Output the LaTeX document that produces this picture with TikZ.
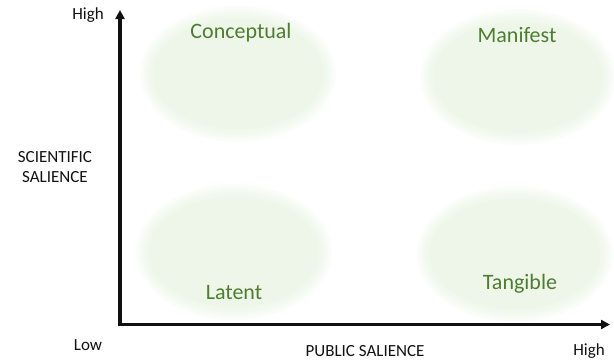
\documentclass[tikz,border=0pt]{standalone}
\usepackage{fontspec}
\setmainfont{Carlito}
\usetikzlibrary{arrows.meta}
\definecolor{leafgreen}{HTML}{4E7C31}
\definecolor{haze}{HTML}{E2F0D9}
\definecolor{ink}{HTML}{111111}
\tikzset{
  axis/.style={line width=3.4pt,draw=ink,line join=miter,
    {Triangle[length=9pt,width=9pt]}-{Triangle[length=9pt,width=9pt]}},
  tag/.style={font=\fontsize{17}{20.5}\selectfont,text=ink,align=center},
  quad/.style={font=\fontsize{22}{26}\selectfont,text=leafgreen},
  blob/.style={fill=haze,opacity=0.1}
}

\begin{document}
\begin{tikzpicture}[x=1pt,y=-1pt]
  \useasboundingbox (0,0) rectangle (614,362);
  % soft-edged regions, one stack of faint ellipses each
  \foreach \cx/\cy in {238/74,518/77,234/252,515/254}
    \foreach \k in {0,...,7}
      \fill[blob] (\cx,\cy) ellipse ({(98-1.8*\k)*1pt} and {(68-1.8*\k)*1pt});

  \node[quad] (conceptual) at (241,33) {Conceptual};
  \node[quad] (manifest) at (517,35) {Manifest};
  \node[quad] (latent) at (234,293) {Latent};
  \node[quad] (tangible) at (520,284) {Tangible};

  \coordinate (origin) at (120,324.5);
  \coordinate (ytip) at (120,10);
  \coordinate (xtip) at (610,324.5);
  \draw[axis] (ytip) -- (origin) -- (xtip);

  \node[tag] (yhigh) at (88,15) {High};
  \node[tag] (ylabel) at (55,167) {SCIENTIFIC\\SALIENCE};
  \node[tag] (low) at (88,345) {Low};
  \node[tag] (xlabel) at (365,351) {PUBLIC SALIENCE};
  \node[tag] (xhigh) at (589,351) {High};
\end{tikzpicture}
\end{document}
